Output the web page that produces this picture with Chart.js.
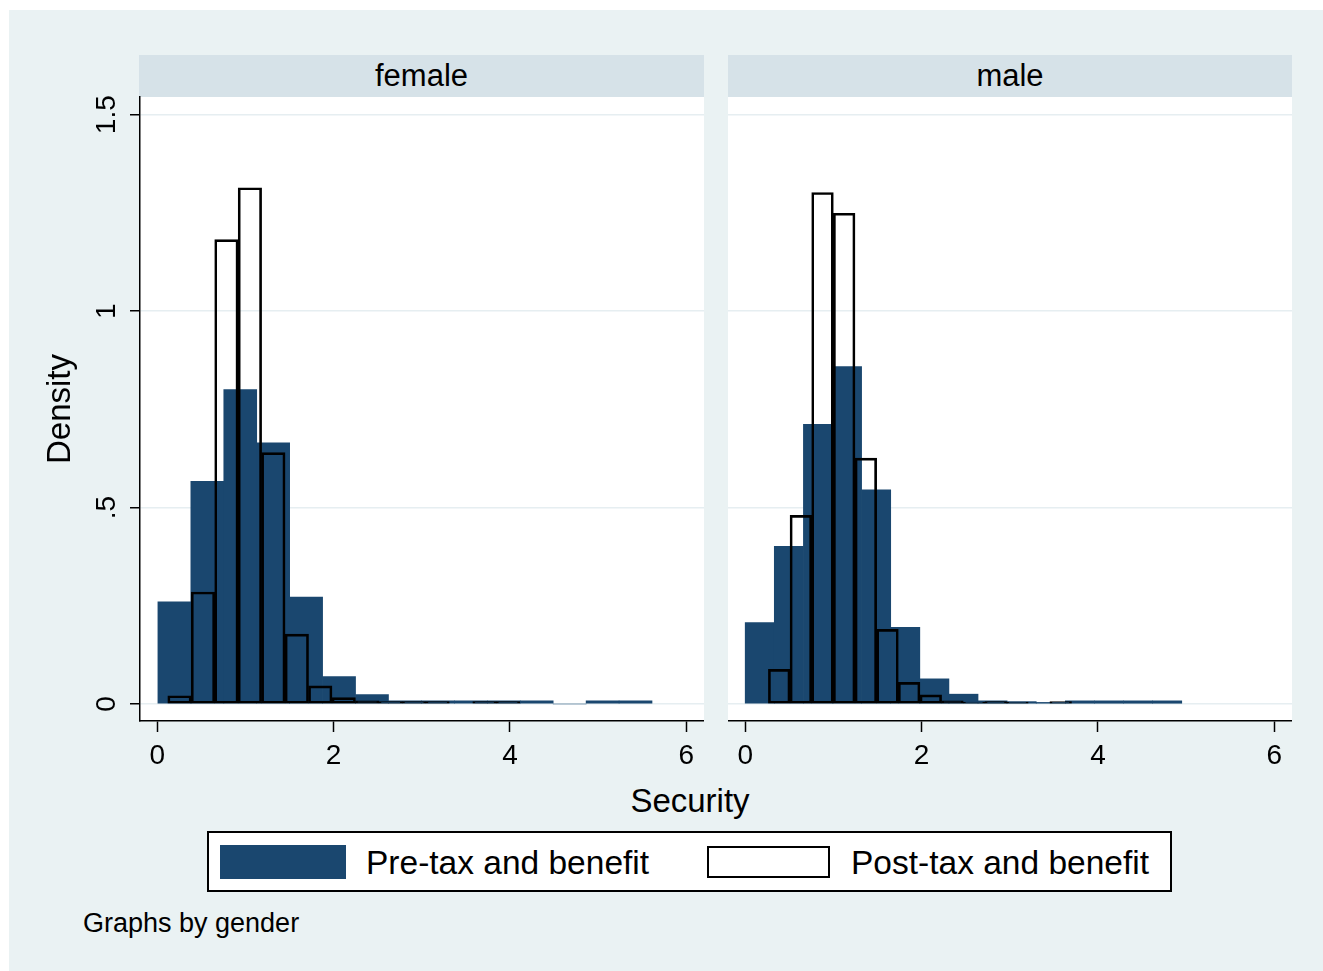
<!DOCTYPE html>
<html>
<head>
<meta charset="utf-8">
<title>Security by gender</title>
<script src="https://cdn.jsdelivr.net/npm/chart.js@4.4.1/dist/chart.umd.min.js"></script>
<style>
  body { margin: 0; background: #fff; font-family: "Liberation Sans", Arial, sans-serif; color: #000; }
  .bg { position: absolute; left: 9px; top: 10px; width: 1314px; height: 961px; background: #eaf2f3; }
  .strip { position: absolute; top: 55px; height: 42px; line-height: 42px; background: #d6e2e8;
           text-align: center; font-size: 31px; }
  canvas { position: absolute; top: 80px; }
  .xtitle { position: absolute; left: 490px; top: 781px; width: 400px; text-align: center;
            font-size: 33px; line-height: 40px; }
  .legend { position: absolute; left: 207px; top: 831px; width: 965px; height: 61px; box-sizing: border-box;
            border: 2px solid #000; background: #fff; }
  .key { position: absolute; box-sizing: border-box; }
  .ltext { position: absolute; font-size: 33.5px; line-height: 40px; top: 843px; white-space: nowrap; }
  .note { position: absolute; left: 83px; top: 907px; font-size: 27px; line-height: 32px; }
</style>
</head>
<body>
<div class="bg"></div>
<div class="strip" style="left:139px;width:565px">female</div>
<div class="strip" style="left:728px;width:564px">male</div>
<canvas id="female" width="704" height="700" style="left:0px"></canvas>
<canvas id="male" width="564" height="700" style="left:728px"></canvas>
<div class="xtitle">Security</div>
<div class="legend"></div>
<div class="key" style="left:220px;top:845px;width:126px;height:34px;background:#1a476f"></div>
<div class="ltext" style="left:366px">Pre-tax and benefit</div>
<div class="key" style="left:707px;top:846px;width:123px;height:32px;background:#fff;border:2px solid #000"></div>
<div class="ltext" style="left:851px">Post-tax and benefit</div>
<div class="note">Graphs by gender</div>

<script>
const seriesNames = ['Pre-tax and benefit', 'Post-tax and benefit'];
const yTicks = [0, 0.5, 1, 1.5];
const xTicks = [0, 2, 4, 6];

// each histogram: [lower edge of first bin, bin width] and the bin densities
const femalePreBins = [0.008, 0.3735];
const femalePre = [0.26, 0.567, 0.80, 0.665, 0.272, 0.070, 0.024, 0.008, 0.008, 0.008, 0.008, 0.008, 0, 0.008, 0.008];
const femalePostBins = [0.12, 0.266];
const femalePost = [0.021, 0.285, 1.182, 1.314, 0.64, 0.178, 0.046, 0.016, 0.008, 0.006, 0.006, 0.006, 0, 0.006, 0.006];

const malePreBins = [0.0, 0.33];
const malePre = [0.207, 0.401, 0.712, 0.859, 0.545, 0.195, 0.064, 0.025, 0.008, 0.006, 0.004, 0.008, 0.008, 0.008, 0.008];
const malePostBins = [0.263, 0.2455];
const malePost = [0.088, 0.48, 1.302, 1.249, 0.626, 0.19, 0.055, 0.023, 0.008, 0.005, 0.006, 0.005, 0, 0.006];

const navy = '#1a476f';
const gridColor = '#e6eef1';
const font = 'Liberation Sans, Arial, sans-serif';
const xMin = -0.195, xMax = 6.2;
const yMin = -0.0433, yMax = 1.545;

// bars sit on bin midpoints
function toBins(bins, dens) {
  return dens.map((d, i) => ({ x: bins[0] + (i + 0.5) * bins[1], y: d }));
}

const plotBg = {
  id: 'plotBg',
  beforeDraw(chart) {
    const { ctx, chartArea: a } = chart;
    ctx.save();
    ctx.fillStyle = '#fff';
    ctx.fillRect(a.left, a.top, a.right - a.left, a.bottom - a.top);
    ctx.restore();
  }
};

function yLabel(v) {
  return v === 0 ? '0' : String(v).replace(/^0\./, '.');
}

// fixed axis sizes so both plot regions line up
function fixWidth(w) {
  return s => { s.width = w; s.paddingTop = 0; s.paddingBottom = 0; };
}

function makePanel(id, pre, post, firstPanel) {
  const yScale = firstPanel ? {
    min: yMin, max: yMax,
    afterBuildTicks: s => { s.ticks = yTicks.map(v => ({ value: v })); },
    afterFit: fixWidth(140),
    grid: { color: gridColor, lineWidth: 1.5, tickColor: '#000', tickWidth: 1.5, tickLength: 10 },
    border: { display: true, color: '#000', width: 1.5 },
    ticks: { minRotation: 90, maxRotation: 90, crossAlign: 'center', padding: 3, color: '#000',
             font: { family: font, size: 28 }, callback: yLabel },
    title: { display: true, text: 'Density', color: '#000', font: { family: font, size: 33 },
             padding: { top: 41, bottom: 0 } }
  } : {
    min: yMin, max: yMax,
    afterBuildTicks: s => { s.ticks = yTicks.map(v => ({ value: v })); },
    afterFit: fixWidth(0),
    grid: { color: gridColor, lineWidth: 1.5, drawTicks: false },
    border: { display: false },
    ticks: { display: false }
  };

  new Chart(document.getElementById(id), {
    type: 'bar',
    data: {
      datasets: [
        {
          label: seriesNames[1], data: post, xAxisID: 'xPost', order: 0,
          backgroundColor: 'rgba(0,0,0,0)', borderColor: '#000', borderWidth: 2, borderSkipped: false,
          barPercentage: 1, categoryPercentage: 1, grouped: false
        },
        {
          label: seriesNames[0], data: pre, xAxisID: 'x', order: 1,
          backgroundColor: navy, borderWidth: 0,
          barPercentage: 1, categoryPercentage: 1, grouped: false
        }
      ]
    },
    options: {
      responsive: false,
      animation: false,
      devicePixelRatio: 1,
      layout: { padding: { top: 17, left: 0, right: 0, bottom: 0 }, autoPadding: false },
      plugins: { legend: { display: false }, tooltip: { enabled: false } },
      scales: {
        x: {
          type: 'linear', min: xMin, max: xMax, offset: false,
          afterBuildTicks: s => { s.ticks = xTicks.map(v => ({ value: v })); },
          afterFit: s => { s.height = 59; s.paddingLeft = 0; s.paddingRight = 0; },
          grid: { display: true, drawOnChartArea: false, offset: false, color: '#000', tickColor: '#000',
                  tickWidth: 1.5, tickLength: 11 },
          border: { display: true, color: '#000', width: 1.5 },
          ticks: { color: '#000', font: { family: font, size: 28 }, padding: 7, maxRotation: 0, autoSkip: false }
        },
        xPost: {
          type: 'linear', display: false, min: xMin, max: xMax, offset: false,
          afterBuildTicks: s => { s.ticks = xTicks.map(v => ({ value: v })); }
        },
        y: yScale
      }
    },
    plugins: [plotBg]
  });
}

makePanel('female', toBins(femalePreBins, femalePre), toBins(femalePostBins, femalePost), true);
makePanel('male', toBins(malePreBins, malePre), toBins(malePostBins, malePost), false);
</script>
</body>
</html>
